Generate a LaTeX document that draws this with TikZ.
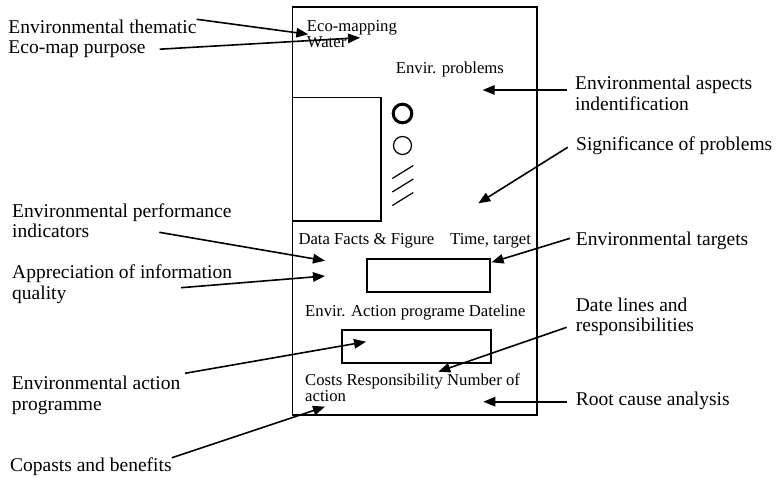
\documentclass[tikz,border=0pt]{standalone}
\usepackage{fontspec}
\setmainfont{Liberation Serif}
\usetikzlibrary{positioning,calc,arrows.meta}

\begin{document}
\begin{tikzpicture}[x=1pt, y=-1pt,
    outer/.style={anchor=base west, inner sep=0pt, align=left, font=\fontsize{19.5}{20.5}\selectfont},
    inner/.style={anchor=base west, inner sep=0pt, align=left, font=\fontsize{16.7}{16.5}\selectfont},
    pointer/.style={line width=1.6pt, -{Triangle[length=12pt,width=9.5pt]}},
    emptybox/.style={draw, line width=1.6pt, inner sep=0pt, anchor=north west}]
    \useasboundingbox (0,0) rectangle (777,477);
    % eco-map sheet
    \draw[line width=1.6pt] (292.3,6.7) rectangle (536.7,415);
    \draw[line width=1.6pt] (292.3,97.3) rectangle (381,221);
    \draw[line width=3pt] (402.5,113.5) circle (9.3);
    \draw[line width=1.2pt] (402.5,145.5) circle (9);
    \foreach \y in {0,13.5,27}
        \draw[line width=1.2pt] (392.3,178.5+\y) -- (413.3,165.5+\y);
    \node[emptybox, minimum width=123.3pt, minimum height=32.7pt] (tgtbox) at (366,258.3) {};
    \node[emptybox, minimum width=149pt, minimum height=33.3pt] (actbox) at (341,329) {};
    % texts on the map (multi-line nodes sit on their last line)
    \node[inner] (ecomap) at (306.7,47.7) {Eco-mapping\\Water};
    \node[inner] (problems) at (395.7,73.3) {Envir. problems};
    \node[inner] (datafacts) at (298.3,244) {Data Facts \& Figure};
    \node[inner] (timetgt) at (450,244) {Time, target};
    \node[inner] (actline) at (305,316) {Envir. Action programe Dateline};
    \node[inner] (costs) at (305,401.7) {Costs Responsibility Number of\\action};
    % labels around
    \node[outer] (thematic) at (8.3,33) {Environmental thematic};
    \node[outer] (purpose) at (8.3,53.5) {Eco-map purpose};
    \node[outer] (aspects) at (575,110) {Environmental aspects\\indentification};
    \node[outer] (signif) at (576,150) {Significance of problems};
    \node[outer] (targets) at (575.7,245) {Environmental targets};
    \node[outer] (perf) at (12,237.7) {Environmental performance\\indicators};
    \node[outer] (quality) at (12,299) {Appreciation of information\\quality};
    \node[outer] (dates) at (575.7,331.7) {Date lines and\\responsibilities};
    \node[outer] (actprog) at (11.7,410) {Environmental action\\programme};
    \node[outer] (rootcause) at (575.7,405) {Root cause analysis};
    \node[outer] (costben) at (10,471.7) {Copasts and benefits};
    % arrow tips
    \coordinate (thematictip) at (308.3,34.3);
    \coordinate (purposetip) at (360,37.7);
    \coordinate (aspectstip) at (482.7,90);
    \coordinate (signiftip) at (478.3,203.3);
    \coordinate (perftip) at (325,260.7);
    \coordinate (qualitytip) at (325,276);
    \coordinate (actprogtip) at (366,341.7);
    \coordinate (datestip) at (438.3,371.7);
    \coordinate (roottip) at (483.3,401.7);
    \coordinate (costbentip) at (325,406.7);
    % arrows
    \draw[pointer] (thematic.north east) -- (thematictip);
    \draw[pointer] ([xshift=14pt]purpose.east) -- (purposetip);
    \draw[pointer] ([shift={(-8.3,-20)}]aspects.base west) -- (aspectstip);
    \draw[pointer] ([shift={(-8.3,-2.7)}]signif.base west) -- (signiftip);
    \draw[pointer] ([shift={(-5.7,-6.7)}]targets.base west) -- ([shift={(0.7,4)}]tgtbox.north east);
    \draw[pointer] ([shift={(147.3,-5.4)}]perf.base west) -- (perftip);
    \draw[pointer] ([shift={(169,-11.3)}]quality.base west) -- (qualitytip);
    \draw[pointer] ([shift={(-9,-4.4)}]dates.base west) -- (datestip);
    \draw[pointer] ([shift={(173.3,-36.7)}]actprog.base west) -- (actprogtip);
    \draw[pointer] ([shift={(-9,-3.3)}]rootcause.base west) -- (roottip);
    \draw[pointer] (costben.north east) -- (costbentip);
\end{tikzpicture}
\end{document}
